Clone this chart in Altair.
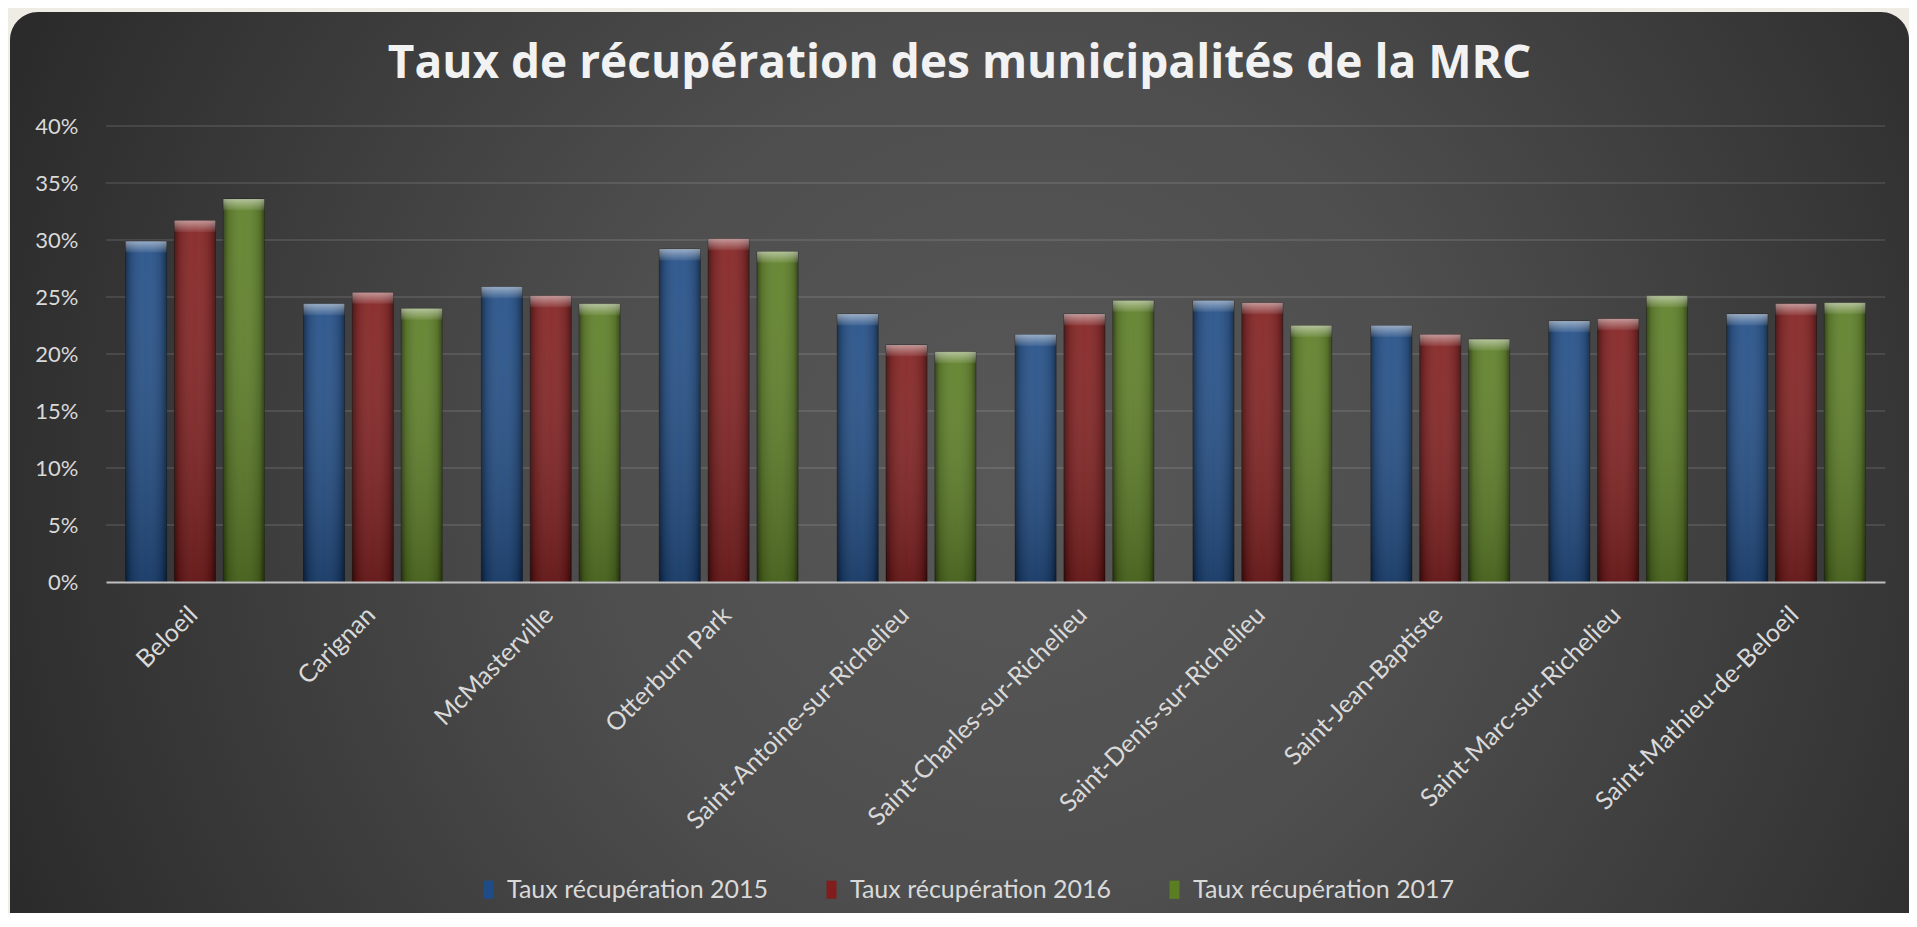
import altair as alt
import pandas as pd

# ---------------- data ----------------
municipalites = [
    "Beloeil", "Carignan", "McMasterville", "Otterburn Park",
    "Saint-Antoine-sur-Richelieu", "Saint-Charles-sur-Richelieu",
    "Saint-Denis-sur-Richelieu", "Saint-Jean-Baptiste",
    "Saint-Marc-sur-Richelieu", "Saint-Mathieu-de-Beloeil",
]
series = ["Taux récupération 2015", "Taux récupération 2016", "Taux récupération 2017"]
taux_2015 = [0.299, 0.244, 0.259, 0.292, 0.235, 0.217, 0.247, 0.225, 0.229, 0.235]
taux_2016 = [0.317, 0.254, 0.251, 0.301, 0.208, 0.235, 0.245, 0.217, 0.231, 0.244]
taux_2017 = [0.336, 0.240, 0.244, 0.290, 0.202, 0.247, 0.225, 0.213, 0.251, 0.245]
y_ticks = [0.0, 0.05, 0.10, 0.15, 0.20, 0.25, 0.30, 0.35, 0.40]
titre = "Taux  de  récupération  des  municipalités  de  la  MRC"

couleurs = ["#1f4c86", "#821d1d", "#5b7e23"]

rows = []
for serie, vals in zip(series, [taux_2015, taux_2016, taux_2017]):
    for m, v in zip(municipalites, vals):
        rows.append({"municipalite": m, "serie": serie, "valeur": v})
df = pd.DataFrame(rows)
grid_df = pd.DataFrame({"v": y_ticks[1:]})

# ---------------- layout ----------------
W, H = 1779, 456
PAD = {"left": 98, "top": 118, "right": 24, "bottom": 331}
FONT = "Lato"
LABEL_COLOR = "#d9d9d9"

y_scale = alt.Scale(domain=[0, 0.4], nice=False)

# background panel with radial gradient
panel = alt.Chart(pd.DataFrame({"a": [0]})).mark_rect(
    cornerRadius=28,
    fill={
        "gradient": "radial",
        "x1": 0.53, "y1": 0.5, "r1": 0,
        "x2": 0.53, "y2": 0.5, "r2": 0.75,
        "stops": [
            {"offset": 0.0, "color": "#585858"},
            {"offset": 0.3, "color": "#4e4e4e"},
            {"offset": 0.62, "color": "#363636"},
            {"offset": 0.76, "color": "#2b2b2b"},
            {"offset": 1.0, "color": "#262626"},
        ],
    },
).encode(
    x=alt.value(-96), x2=alt.value(W + PAD["right"]),
    y=alt.value(-114), y2=alt.value(H + PAD["bottom"] + 40),
)

grid = alt.Chart(grid_df).mark_rule(color="#ffffff", opacity=0.1, strokeWidth=2).encode(
    y=alt.Y("v:Q", scale=y_scale)
)

x_enc = alt.X(
    "municipalite:N",
    sort=municipalites,
    scale=alt.Scale(paddingInner=0.22, paddingOuter=0.11),
    axis=alt.Axis(
        title=None, labelAngle=-45, ticks=False, tickSize=0,
        domainColor="#bfbfbf", domainWidth=2,
        labelFont=FONT, labelFontSize=25, labelColor=LABEL_COLOR,
        labelPadding=20, labelOffset=-10, labelLimit=600, zindex=1, grid=False,
    ),
)
xo_enc = alt.XOffset("serie:N", sort=series, scale=alt.Scale(paddingInner=0.16, paddingOuter=0))
y_enc = alt.Y(
    "valeur:Q", scale=y_scale,
    axis=alt.Axis(
        title=None, format=".0%", values=y_ticks, grid=False, domain=False,
        ticks=False, tickSize=0, labelFont=FONT, labelFontSize=22,
        labelColor=LABEL_COLOR, labelPadding=28, zindex=1,
    ),
)

base = alt.Chart(df).encode(x=x_enc, xOffset=xo_enc, y=y_enc)

bars = base.mark_bar(stroke="#000000", strokeOpacity=0.35, strokeWidth=1).encode(
    color=alt.Color(
        "serie:N", sort=series,
        scale=alt.Scale(domain=series, range=couleurs),
        legend=alt.Legend(
            title=None, orient="none", legendX=370, legendY=751,
            direction="horizontal", columns=3, columnPadding=50,
            symbolType="M-0.55,-1L0.55,-1L0.55,1L-0.55,1Z", symbolSize=330,
            symbolStrokeWidth=0, labelFont=FONT, labelFontSize=25,
            labelColor=LABEL_COLOR, labelOffset=6, labelLimit=600, zindex=1,
        ),
    )
)

shade_h = base.mark_bar(
    fill={
        "gradient": "linear", "x1": 0, "y1": 0, "x2": 1, "y2": 0,
        "stops": [
            {"offset": 0.0, "color": "rgba(0,0,0,0.5)"},
            {"offset": 0.12, "color": "rgba(0,0,0,0.15)"},
            {"offset": 0.5, "color": "rgba(255,255,255,0.03)"},
            {"offset": 0.88, "color": "rgba(0,0,0,0.15)"},
            {"offset": 1.0, "color": "rgba(0,0,0,0.5)"},
        ],
    }
)

shade_v = base.mark_bar(
    fill={
        "gradient": "linear", "x1": 0, "y1": 0, "x2": 0, "y2": 1,
        "stops": [
            {"offset": 0.0, "color": "rgba(255,255,255,0.05)"},
            {"offset": 1.0, "color": "rgba(0,0,0,0.22)"},
        ],
    }
)

bevel = base.transform_calculate(bas="datum.valeur - 0.01").mark_bar(
    fill={
        "gradient": "linear", "x1": 0, "y1": 0, "x2": 0, "y2": 1,
        "stops": [
            {"offset": 0.0, "color": "rgba(255,255,255,0.5)"},
            {"offset": 1.0, "color": "rgba(255,255,255,0.06)"},
        ],
    }
).encode(y2="bas:Q")

chart = alt.layer(panel, grid, bars, shade_h, shade_v, bevel).properties(
    width=W,
    height=H,
    autosize="none",
    padding=PAD,
    background="#efece6",
    title=alt.TitleParams(
        titre, font="Open Sans", fontSize=46, fontWeight="bold", color="#f2f2f2",
        anchor="middle", frame="bounds", offset=0, dy=112,
        baseline="alphabetic", zindex=1,
    ),
).configure_view(stroke="transparent")

chart.save("out.html", embed_options={"renderer": "svg", "actions": False})
